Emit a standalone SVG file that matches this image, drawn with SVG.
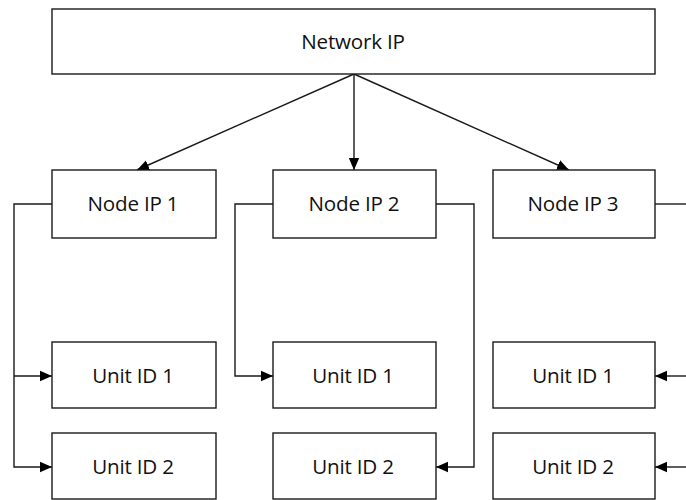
<svg xmlns="http://www.w3.org/2000/svg" width="686" height="500" viewBox="0 0 686 500">
  <style>
    .box { fill: #ffffff; stroke: #1a1a1a; stroke-width: 1.4; }
    .lbl { font-family: "Open Sans", "Liberation Sans", sans-serif; font-size: 20.6px; fill: #111111; text-anchor: middle; letter-spacing: -0.2px; }
    .wire { fill: none; stroke: #1a1a1a; stroke-width: 1.4; }
  </style>
  <defs>
    <marker id="arrow" viewBox="0 0 12 12" refX="12" refY="6" markerWidth="12" markerHeight="12" markerUnits="userSpaceOnUse" orient="auto">
      <path d="M0,0.8 L12,6 L0,11.2 Z" fill="#000000"/>
    </marker>
  </defs>

  <rect width="686" height="500" fill="#ffffff"/>

  <!-- connectors -->
  <g id="connectors" class="wire">
    <line x1="354" y1="74" x2="137" y2="170" marker-end="url(#arrow)"/>
    <line x1="354" y1="74" x2="354" y2="170" marker-end="url(#arrow)"/>
    <line x1="354" y1="74" x2="569" y2="170" marker-end="url(#arrow)"/>
    <!-- Node IP 1 to its units -->
    <path d="M52,204 H14 V467 H52" marker-end="url(#arrow)"/>
    <path d="M14,376 H52" marker-end="url(#arrow)"/>
    <!-- Node IP 2 to its units -->
    <path d="M273,204 H235 V376 H273" marker-end="url(#arrow)"/>
    <path d="M436,204 H474 V467 H436" marker-end="url(#arrow)"/>
    <!-- Node IP 3 to its units -->
    <path d="M655,204 H686"/>
    <path d="M686,376 H655" marker-end="url(#arrow)"/>
    <path d="M686,467 H655" marker-end="url(#arrow)"/>
  </g>

  <g id="network-ip">
    <rect class="box" x="52" y="9" width="603" height="65"/>
    <text class="lbl" x="353" y="49">Network IP</text>
  </g>

  <g id="node-ip-1">
    <rect class="box" x="52" y="170" width="164" height="68"/>
    <text class="lbl" x="133" y="211">Node IP 1</text>
  </g>
  <g id="node-ip-2">
    <rect class="box" x="273" y="170" width="163" height="68"/>
    <text class="lbl" x="354" y="211">Node IP 2</text>
  </g>
  <g id="node-ip-3">
    <rect class="box" x="493" y="170" width="162" height="68"/>
    <text class="lbl" x="573" y="211">Node IP 3</text>
  </g>

  <g id="unit-1-1">
    <rect class="box" x="52" y="342" width="164" height="66"/>
    <text class="lbl" x="133" y="383">Unit ID 1</text>
  </g>
  <g id="unit-1-2">
    <rect class="box" x="52" y="433" width="164" height="66"/>
    <text class="lbl" x="133" y="474">Unit ID 2</text>
  </g>
  <g id="unit-2-1">
    <rect class="box" x="273" y="342" width="163" height="66"/>
    <text class="lbl" x="353" y="383">Unit ID 1</text>
  </g>
  <g id="unit-2-2">
    <rect class="box" x="273" y="433" width="163" height="66"/>
    <text class="lbl" x="353" y="474">Unit ID 2</text>
  </g>
  <g id="unit-3-1">
    <rect class="box" x="493" y="342" width="162" height="66"/>
    <text class="lbl" x="573" y="383">Unit ID 1</text>
  </g>
  <g id="unit-3-2">
    <rect class="box" x="493" y="433" width="162" height="66"/>
    <text class="lbl" x="573" y="474">Unit ID 2</text>
  </g>
</svg>
